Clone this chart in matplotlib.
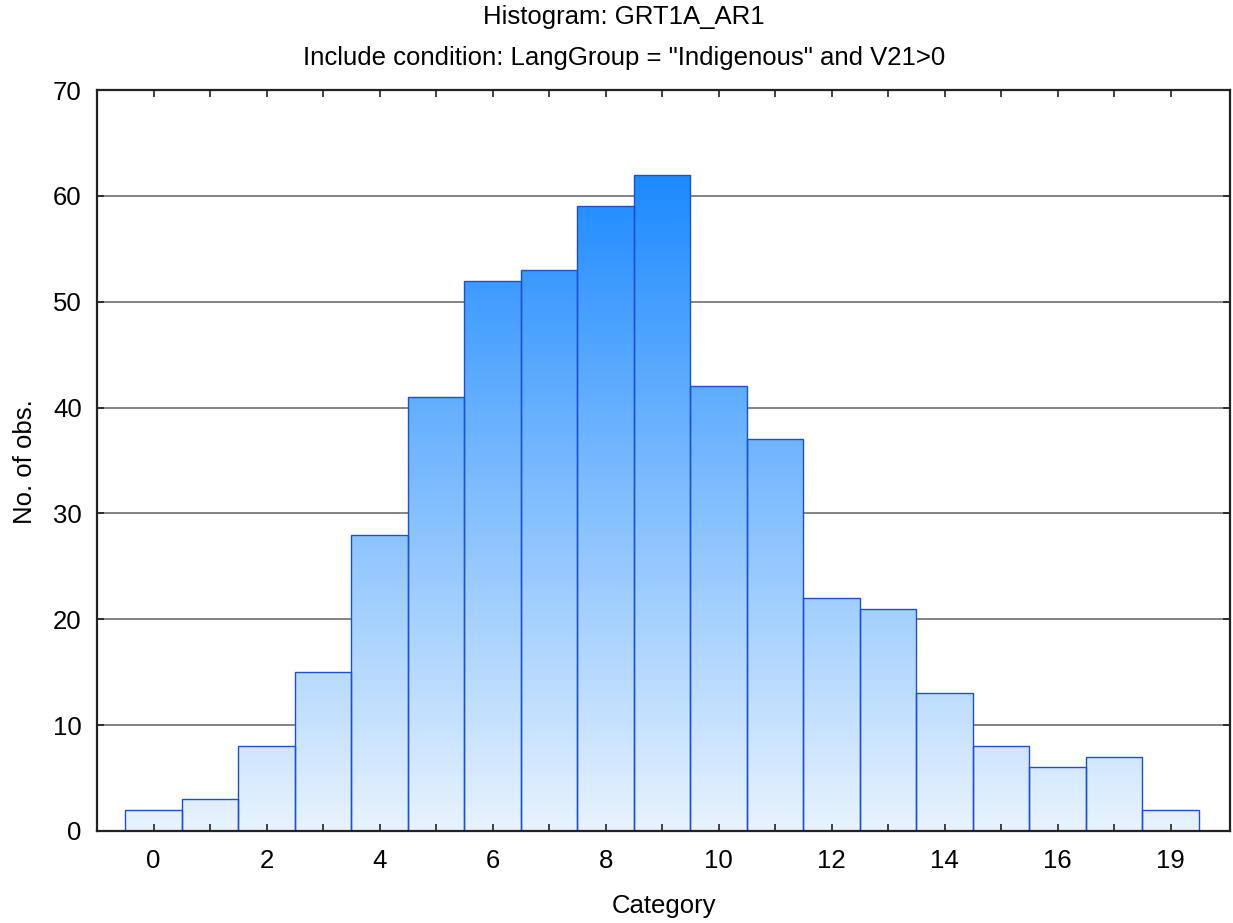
import numpy as np
import matplotlib
matplotlib.use("Agg")
import matplotlib.pyplot as plt
from matplotlib.colors import LinearSegmentedColormap
from matplotlib.path import Path
from matplotlib.patches import PathPatch

# Data
categories = list(range(19))
counts = [2, 3, 8, 15, 28, 41, 52, 53, 59, 62, 42, 37, 22, 21, 13, 8, 6, 7, 2]
tick_positions = [0, 2, 4, 6, 8, 10, 12, 14, 16, 18]
tick_labels = ["0", "2", "4", "6", "8", "10", "12", "14", "16", "19"]
y_ticks = [0, 10, 20, 30, 40, 50, 60, 70]

plt.rcParams['font.family'] = ['Liberation Sans', 'DejaVu Sans']
FS = 18.5
W, H = 1233, 923

fig = plt.figure(figsize=(W / 100, H / 100), dpi=100)
ax = fig.add_axes([97 / W, 92 / H, 1133 / W, 741 / H])

ax.set_xlim(-1, 19.05)
ax.set_ylim(0, 70)

# gridlines behind the bars
for y in y_ticks[1:-1]:
    ax.axhline(y, color='#6e6e6e', lw=1.2, zorder=0)

# gradient fill, light at the bottom and saturated at the top of the tallest bar
cmap = LinearSegmentedColormap.from_list("blues", ["#e8f3fe", "#1c8aff"])
grad = np.linspace(0, 1, 256).reshape(-1, 1)
img = ax.imshow(grad, cmap=cmap, aspect='auto', origin='lower',
                extent=[-1, 19.05, 0, max(counts)], zorder=1)

bars = ax.bar(categories, counts, width=1.0, facecolor='none',
              edgecolor='#1a50d4', linewidth=1.0, zorder=2)

# clip the gradient to the bar shapes
verts, codes = [], []
for b in bars:
    x0, y0 = b.get_x(), 0
    x1, y1 = x0 + b.get_width(), b.get_height()
    verts += [(x0, y0), (x1, y0), (x1, y1), (x0, y1), (x0, y0)]
    codes += [Path.MOVETO, Path.LINETO, Path.LINETO, Path.LINETO, Path.CLOSEPOLY]
clip = PathPatch(Path(verts, codes), transform=ax.transData, facecolor='none', edgecolor='none')
ax.add_patch(clip)
img.set_clip_path(clip)

ax.set_xticks(tick_positions)
ax.set_xticklabels(tick_labels)
ax.set_xticks(categories, minor=True)
ax.set_yticks(y_ticks)

ax.tick_params(axis='both', which='both', direction='in', top=True, right=True,
               length=5, width=1.2, labelsize=FS, color='#222222')
ax.tick_params(axis='x', which='both', pad=13)
ax.tick_params(axis='y', which='both', pad=11, labelright=False)
ax.tick_params(axis='x', which='minor', labelbottom=False)

for s in ax.spines.values():
    s.set_linewidth(1.6)
    s.set_color('#222222')

fig.text(664 / W, 1 - 906 / H, "Category", fontsize=FS, ha='center', va='center')
fig.text(25 / W, 1 - 462 / H, "No. of obs.", fontsize=FS, ha='center', va='center',
         rotation=90)
fig.text(624 / W, 1 - 17 / H, "Histogram: GRT1A_AR1", fontsize=FS,
         ha='center', va='center')
fig.text(624 / W, 1 - 58 / H, 'Include condition: LangGroup = "Indigenous" and V21>0',
         fontsize=FS, ha='center', va='center')

fig.savefig("out.png", dpi=100)
